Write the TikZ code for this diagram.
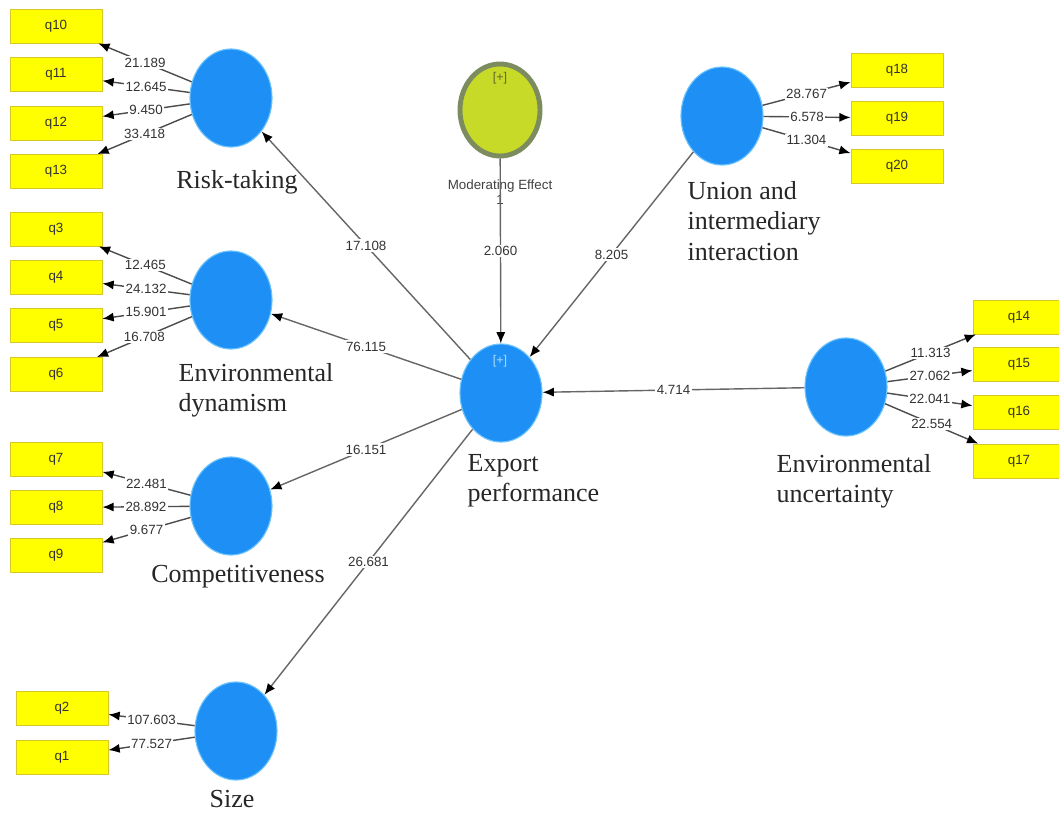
\documentclass[tikz,border=0pt]{standalone}
\usepackage{fontspec}
\setmainfont{Liberation Serif}
\setsansfont{Liberation Sans}
\usetikzlibrary{arrows.meta,shapes.geometric,positioning}
\definecolor{lvblue}{RGB}{30,144,245}
\definecolor{lvrim}{RGB}{110,195,250}
\definecolor{modfill}{RGB}{200,218,40}
\definecolor{modrim}{RGB}{125,140,95}
\definecolor{modtag}{RGB}{100,105,40}
\definecolor{qyellow}{RGB}{255,255,0}
\definecolor{qrim}{RGB}{215,200,40}

\begin{document}
\begin{tikzpicture}
  [
  x=0.025cm, y=-0.025cm, line width=1pt, >={Latex[length=8pt,width=6.5pt,color=black]},
  latent/.style={ellipse, minimum width=2.05cm, minimum height=2.45cm, inner sep=0pt, fill=lvblue, draw=lvrim, line width=0.8pt},
  moderator/.style={ellipse, minimum width=2.0cm, minimum height=2.3cm, inner sep=0pt, fill=modfill, draw=modrim, line width=3.5pt},
  indicator/.style={rectangle, minimum width=2.3cm, minimum height=0.85cm, inner sep=0pt, fill=qyellow, draw=qrim, line width=0.6pt, font=\sffamily\fontsize{9.5}{10}\selectfont, text=black!80},
  caption/.style={font=\fontsize{18.5}{21.5}\selectfont, align=left, inner sep=0pt, text=black!85},
  weight/.style={font=\sffamily\fontsize{9.5}{11}\selectfont, text=black!80, fill=white, inner sep=1pt},
  loading/.style={->, draw=black!70, line width=1pt},
  structural/.style={->, draw=black!60, line width=1pt}
  ]
\useasboundingbox (0,0) rectangle (1059,817);

\node[latent] (risk) at (231,98) {};
\node[latent] (envdyn) at (231,300) {};
\node[latent] (comp) at (231,506) {};
\node[latent] (size) at (236,731) {};
\node[latent] (export) at (501,393) {};
\node[latent] (union) at (722,116) {};
\node[latent] (envunc) at (846,387) {};
\node[moderator] (moder) at (500,110) {};

\node[font=\sffamily\fontsize{9}{10}\selectfont, text=lvrim!60!white] (exporttag) at (500,361) {[+]};
\node[font=\sffamily\fontsize{9}{10}\selectfont, text=modtag] (modertag) at (500,78) {[+]};

\node[caption] (risklbl) at (237,182) {Risk-taking};
\node[caption, anchor=west] (envdynlbl) at (178,390) {Environmental\\dynamism};
\node[caption] (complbl) at (238,577) {Competitiveness};
\node[caption] (sizelbl) at (232,799) {Size};
\node[caption, anchor=west] (exportlbl) at (467,481) {Export\\performance};
\node[caption, anchor=west] (unionlbl) at (687,221) {Union and\\intermediary\\interaction};
\node[caption, anchor=west] (envunclbl) at (776,481) {Environmental\\uncertainty};
\node[font=\sffamily\fontsize{9.5}{11}\selectfont, text=black!75, align=center] (moderlbl) at (500,192) {Moderating Effect\\1};

\foreach \q/\y/\w in {10/26/21.189, 11/74.5/12.645, 12/123/9.450, 13/171.5/33.418} {
  \node[indicator] (q\q) at (56,\y) {q\q};
  \draw[loading] (risk) -- node[weight] {\w} (q\q);
}

\foreach \q/\y/\w in {3/229/12.465, 4/277.5/24.132, 5/325.5/15.901, 6/374.5/16.708} {
  \node[indicator] (q\q) at (56,\y) {q\q};
  \draw[loading] (envdyn) -- node[weight] {\w} (q\q);
}

\foreach \q/\y/\w in {7/459.5/22.481, 8/507.5/28.892, 9/555.5/9.677} {
  \node[indicator] (q\q) at (56,\y) {q\q};
  \draw[loading] (comp) -- node[weight] {\w} (q\q);
}

\foreach \q/\y/\w in {2/708.5/107.603, 1/757/77.527} {
  \node[indicator] (q\q) at (62,\y) {q\q};
  \draw[loading] (size) -- node[weight] {\w} (q\q);
}

\foreach \q/\y/\w in {18/70/28.767, 19/118/6.578, 20/166.5/11.304} {
  \node[indicator] (q\q) at (897,\y) {q\q};
  \draw[loading] (union) -- node[weight] {\w} (q\q);
}

\foreach \q/\y/\w in {14/317/11.313, 15/364.5/27.062, 16/412.5/22.041, 17/461/22.554} {
  \node[indicator] (q\q) at (1019,\y) {q\q};
  \draw[loading] (envunc) -- node[weight] {\w} (q\q);
}

\draw[structural] (export) -- node[weight] {17.108} (risk);
\draw[structural] (export) -- node[weight] {76.115} (envdyn);
\draw[structural] (export) -- node[weight] {16.151} (comp);
\draw[structural] (export) -- node[weight] {26.681} (size);
\draw[structural] (moder) -- node[weight] {2.060} (export);
\draw[structural] (union) -- node[weight] {8.205} (export);
\draw[structural] (envunc) -- node[weight] {4.714} (export);
\end{tikzpicture}
\end{document}
